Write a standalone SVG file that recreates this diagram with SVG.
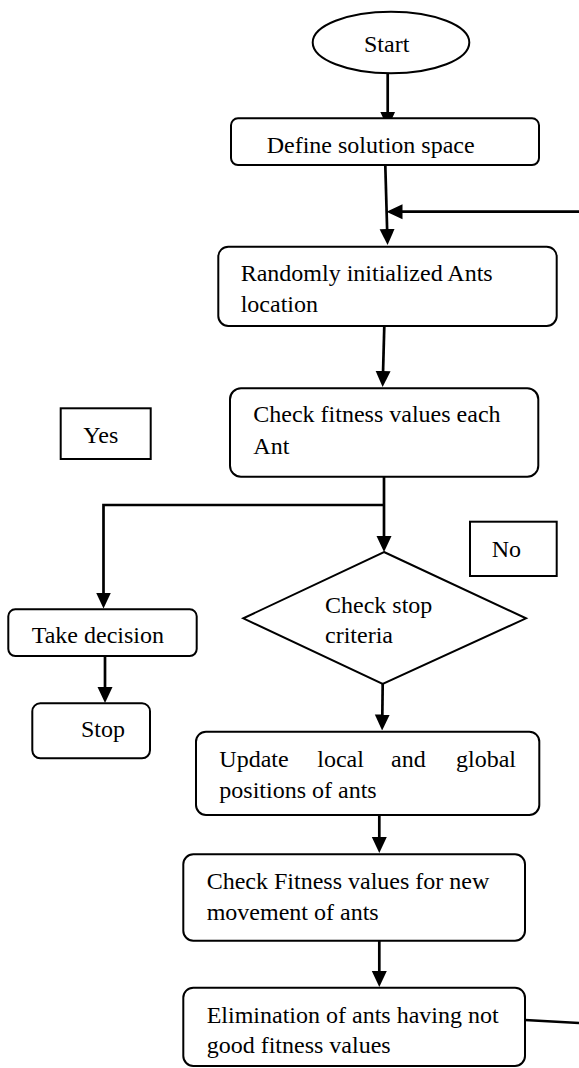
<svg xmlns="http://www.w3.org/2000/svg" width="579" height="1068" viewBox="0 0 579 1068">
<style>
  .box { fill: #ffffff; stroke: #000000; stroke-width: 2; }
  .lbl { fill: #ffffff; stroke: #000000; stroke-width: 2; }
  .conn { fill: none; stroke: #000000; stroke-width: 2.7; }
  text { font-family: "Liberation Serif", "Times New Roman", serif; font-size: 24px; fill: #000000; }
</style>
<defs>
  <marker id="arrow" viewBox="0 0 16 16" markerWidth="16" markerHeight="16" refX="10" refY="8" orient="auto" markerUnits="userSpaceOnUse">
    <path d="M0,0.5 L16,8 L0,15.5 Z" fill="#000000"/>
  </marker>
</defs>
<rect width="579" height="1068" fill="#ffffff"/>

<g id="connectors">
  <line class="conn" x1="387.7" y1="73.5" x2="387.7" y2="121.7" marker-end="url(#arrow)"/>
  <line class="conn" x1="385.3" y1="165.5" x2="387.4" y2="239" marker-end="url(#arrow)"/>
  <line class="conn" x1="579" y1="211.7" x2="392.5" y2="211.7" marker-end="url(#arrow)"/>
  <line class="conn" x1="384.3" y1="326" x2="382.8" y2="381" marker-end="url(#arrow)"/>
  <line class="conn" x1="384" y1="477" x2="384" y2="546" marker-end="url(#arrow)"/>
  <polyline class="conn" points="384,505 103.5,505 103.5,602.5" marker-end="url(#arrow)"/>
  <line class="conn" x1="382.7" y1="684" x2="382.2" y2="724.5" marker-end="url(#arrow)"/>
  <line class="conn" x1="379.3" y1="806.7" x2="379.3" y2="847" marker-end="url(#arrow)"/>
  <line class="conn" x1="379.3" y1="940.7" x2="379.3" y2="981" marker-end="url(#arrow)"/>
  <line class="conn" x1="105" y1="656" x2="105" y2="697" marker-end="url(#arrow)"/>
  <line class="conn" x1="525" y1="1020" x2="579" y2="1023"/>
</g>

<g id="start">
  <ellipse class="box" cx="391" cy="42.5" rx="78.3" ry="30.8"/>
  <text x="364" y="51.7">Start</text>
</g>

<g id="define">
  <rect class="box" x="231" y="118.3" width="308" height="46.7" rx="7"/>
  <text x="266.7" y="152.7">Define solution space</text>
</g>

<g id="randomly">
  <rect class="box" x="218.3" y="246.7" width="338.4" height="79.3" rx="10"/>
  <text x="240.7" y="281">Randomly initialized Ants</text>
  <text x="240.7" y="311.7">location</text>
</g>

<g id="check-fitness">
  <rect class="box" x="230" y="388.3" width="308.3" height="88.4" rx="11"/>
  <text x="253.3" y="421.7">Check fitness values each</text>
  <text x="253.3" y="454.3">Ant</text>
</g>

<g id="yes">
  <rect class="lbl" x="60.7" y="408.3" width="90" height="50.7"/>
  <text x="83.3" y="442.7">Yes</text>
</g>

<g id="no">
  <rect class="lbl" x="470" y="521.7" width="86.7" height="54.3"/>
  <text x="491.7" y="556.7">No</text>
</g>

<g id="check-stop">
  <polygon class="box" points="384,552 526,618.3 382.7,684 243.3,618.3"/>
  <text x="325" y="612.7">Check stop</text>
  <text x="325" y="643.3">criteria</text>
</g>

<g id="take-decision">
  <rect class="box" x="8.3" y="609.3" width="188.4" height="46.7" rx="7"/>
  <text x="31.7" y="642.7">Take decision</text>
</g>

<g id="stop">
  <rect class="box" x="32.3" y="703.3" width="117.7" height="55" rx="8"/>
  <text x="81" y="736.7">Stop</text>
</g>

<g id="update">
  <rect class="box" x="196" y="731.7" width="343.3" height="83.3" rx="10"/>
  <text y="766.7"><tspan x="219.3">Update</tspan><tspan x="317.3">local</tspan><tspan x="391">and</tspan><tspan x="456">global</tspan></text>
  <text x="219.3" y="798.3">positions of ants</text>
</g>

<g id="check-new">
  <rect class="box" x="183.3" y="854.3" width="341.7" height="86.4" rx="10"/>
  <text x="206.7" y="888.5">Check Fitness values for new</text>
  <text x="206.7" y="920">movement of ants</text>
</g>

<g id="elimination">
  <rect class="box" x="183.3" y="987.7" width="341.7" height="78.3" rx="10"/>
  <text x="206.7" y="1022.7">Elimination of ants having not</text>
  <text x="206.7" y="1053.3">good fitness values</text>
</g>
</svg>
